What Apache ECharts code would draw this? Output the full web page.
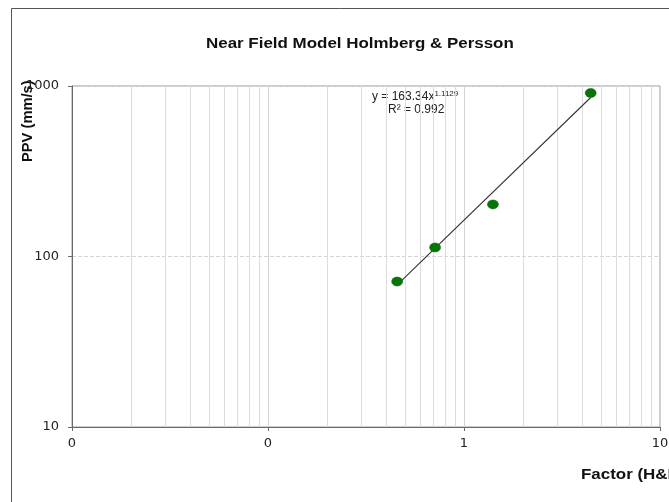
<!DOCTYPE html>
<html><head><meta charset="utf-8">
<script src="https://cdn.jsdelivr.net/npm/echarts@6/dist/echarts.min.js"></script>
<style>html,body{margin:0;padding:0;background:#fff}#c{width:669px;height:502px}</style>
</head><body><div id="c"></div>
<script>
// Data
const factorX = [0.456, 0.712, 1.405, 4.43];
const ppvY = [71.3, 113, 202, 910];
// Power trendline y = 163.34 x^1.1129, endpoints
const trendX = [0.456, 4.43];
const trendY = [68.2, 856];
// Minor vertical gridline positions (2..9 per decade)
const minorGridX = [0.02,0.03,0.04,0.05,0.06,0.07,0.08,0.09,0.2,0.3,0.4,0.5,0.6,0.7,0.8,0.9,2,3,4,5,6,7,8,9];
const xTicks = [0.01, 0.1, 1, 10];
const yTicks = [10, 100, 1000];

const chart = echarts.init(document.getElementById('c'), null, {renderer: 'canvas'});
const font = 'Liberation Sans, Arial, sans-serif';
const tickFont = 'DejaVu Sans';
chart.setOption({
  animation: false,
  backgroundColor: '#fff',
  grid: {left: 72, right: 9, top: 86, bottom: 75, outerBoundsMode: 'none', containLabel: false, show: true, borderColor: '#9a9a9a', borderWidth: 1, backgroundColor: 'transparent'},
  xAxis: {
    type: 'log', logBase: 10, min: xTicks[0], max: xTicks[xTicks.length - 1],
    axisLine: {show: true, lineStyle: {color: '#6a6a6a', width: 1}},
    axisTick: {show: true, length: 4, lineStyle: {color: '#6a6a6a'}},
    axisLabel: {color: '#222', fontFamily: tickFont, fontSize: 13, margin: 10, formatter: v => String(Math.round(v))},
    splitLine: {show: true, lineStyle: {color: '#d4d4d4', width: 1}}
  },
  yAxis: {
    type: 'log', logBase: 10, min: yTicks[0], max: yTicks[yTicks.length - 1],
    axisLine: {show: true, lineStyle: {color: '#6a6a6a', width: 1}},
    axisTick: {show: true, length: 4, lineStyle: {color: '#6a6a6a'}},
    axisLabel: {color: '#222', fontFamily: tickFont, fontSize: 13, margin: 13, formatter: v => String(Math.round(v))},
    splitLine: {show: true, lineStyle: {color: '#d4d4d4', width: 1, type: 'dashed'}}
  },
  series: [
    {
      type: 'line', data: [], silent: true, z: 1,
      markLine: {
        silent: true, symbol: 'none', label: {show: false}, z: 1,
        lineStyle: {color: '#dcdcdc', width: 1, type: 'solid'},
        emphasis: {disabled: true},
        data: minorGridX.map(v => ({xAxis: v}))
      }
    },
    {
      type: 'line', data: trendX.map((x, i) => [x, trendY[i]]), showSymbol: false, symbol: 'none',
      lineStyle: {color: '#333', width: 1.1}, silent: true, z: 5
    },
    {
      type: 'scatter', data: factorX.map((x, i) => [x, ppvY[i]]), symbol: 'circle', symbolSize: [11, 9],
      itemStyle: {color: '#087508', opacity: 1, borderColor: '#055a05', borderWidth: 0.5}, z: 6
    }
  ],
  graphic: [
    {type: 'line', shape: {x1: 11.5, y1: 8.5, x2: 669, y2: 8.5}, style: {stroke: '#555', lineWidth: 1}},
    {type: 'line', shape: {x1: 11.5, y1: 8.5, x2: 11.5, y2: 502}, style: {stroke: '#555', lineWidth: 1}},
    {type: 'text', x: 206, y: 37, scaleX: 1.21, style: {text: 'Near Field Model Holmberg & Persson', font: 'bold 14px ' + font, fill: '#111', textVerticalAlign: 'top'}},
    {type: 'text', x: 21, y: 162, rotation: Math.PI / 2, scaleX: 1.05, style: {text: 'PPV (mm/s)', font: 'bold 14px ' + font, fill: '#111', textVerticalAlign: 'top'}},
    {type: 'text', x: 581, y: 468, scaleX: 1.21, style: {text: 'Factor (H&P)', font: 'bold 14px ' + font, fill: '#111', textVerticalAlign: 'top'}},
    {type: 'text', x: 372, y: 90, style: {
      text: '{a|y = 163.34x}{s|1.1129}', textVerticalAlign: 'top', rich: {
        a: {font: '12px ' + font, fill: '#222', lineHeight: 14},
        s: {font: '8px ' + font, fill: '#222', verticalAlign: 'top', padding: [0, 0, 6, 0]}
      }}},
    {type: 'text', x: 388, y: 104, style: {text: 'R² = 0.992', font: '12px ' + font, fill: '#222', textVerticalAlign: 'top'}}
  ]
});
</script></body></html>
